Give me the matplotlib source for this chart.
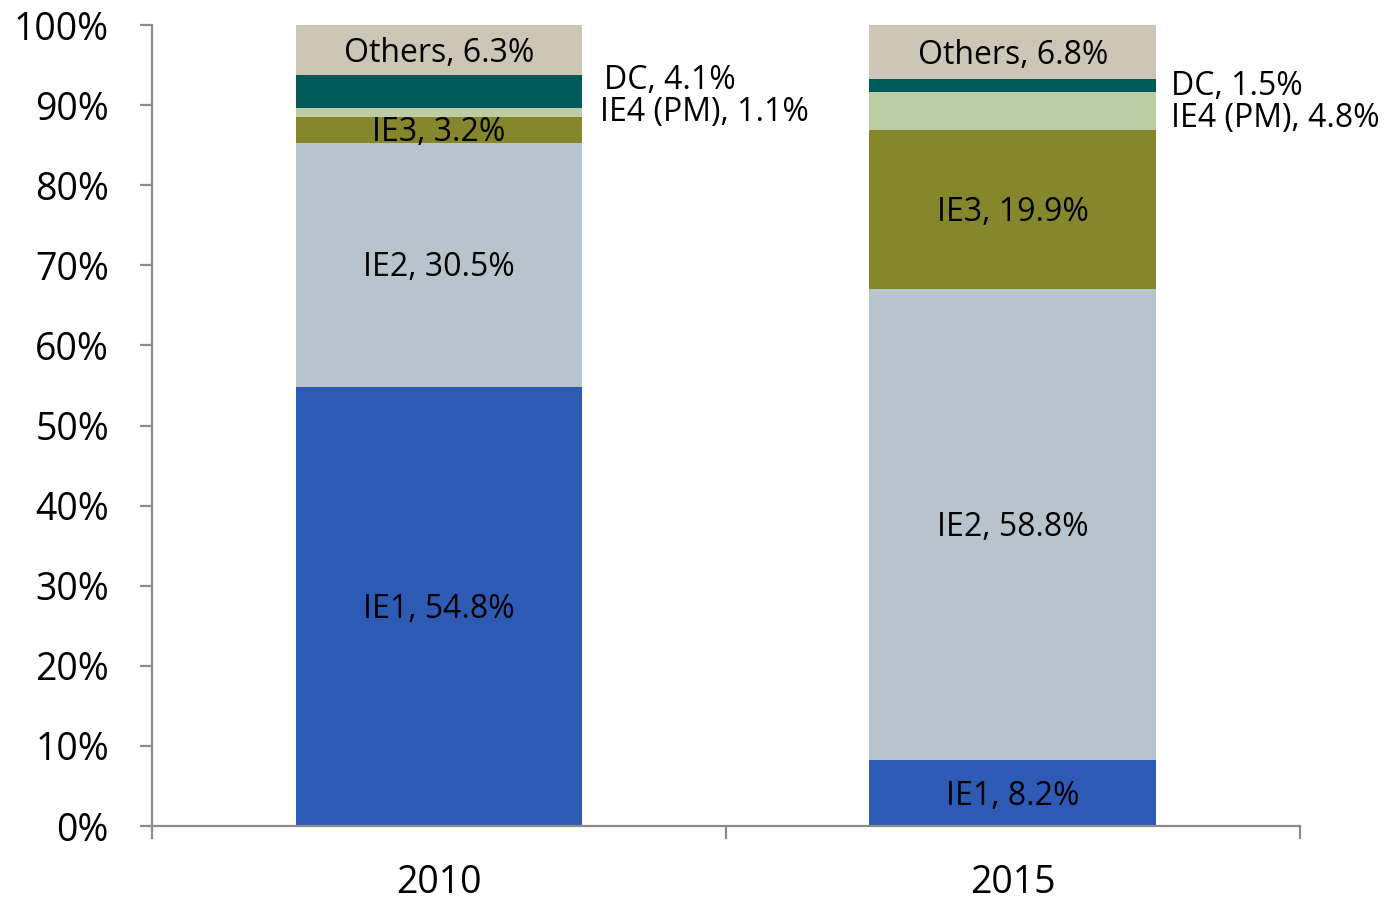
import matplotlib
matplotlib.use("Agg")
import matplotlib.pyplot as plt
from matplotlib.ticker import FixedLocator, PercentFormatter

years = ["2010", "2015"]
series = ["IE1", "IE2", "IE3", "IE4 (PM)", "DC", "Others"]
ie1 = [54.8, 8.2]
ie2 = [30.5, 58.8]
ie3 = [3.2, 19.9]
ie4 = [1.1, 4.8]
dc = [4.1, 1.5]
others = [6.3, 6.8]
values = [ie1, ie2, ie3, ie4, dc, others]
colors = ["#2D5AB4", "#B7C4CE", "#86872D", "#BCCCA3", "#005A58", "#CDC5B6"]

plt.rcParams["font.family"] = ["Open Sans", "DejaVu Sans"]

fig = plt.figure(figsize=(13.96, 9.0), dpi=100)
ax = fig.add_axes([0.1089, 0.0822, 0.8223, 0.89])

x = [0, 1]
width = 0.5
bottoms = [0.0, 0.0]
# outside label pixel offsets (dx, dy) per year for IE4 and DC
outside = {"IE4 (PM)": [(18, 0), (15, -8)], "DC": [(22, 11), (15, -1)]}

for name, vals, col in zip(series, values, colors):
    ax.bar(x, vals, width, bottom=bottoms, color=col, edgecolor="none")
    for i, v in enumerate(vals):
        mid = bottoms[i] + v / 2
        label = f"{name}, {v}%"
        if name in outside:
            dx, dy = outside[name][i]
            ax.annotate(label, (x[i] + width / 2, mid), xytext=(dx, dy),
                        textcoords="offset pixels", ha="left", va="center",
                        fontsize=23, color="black")
        else:
            ax.annotate(label, (x[i], mid), xytext=(0, -3),
                        textcoords="offset pixels", ha="center", va="center",
                        fontsize=23, color="black")
    bottoms = [b + v for b, v in zip(bottoms, vals)]

ax.set_xlim(-0.5, 1.5)
ax.set_ylim(0, 100)
ax.yaxis.set_major_locator(FixedLocator(range(0, 101, 10)))
ax.yaxis.set_major_formatter(PercentFormatter(decimals=0))

ax.xaxis.set_major_locator(FixedLocator([-0.5, 0.5, 1.5]))
ax.xaxis.set_major_formatter(plt.NullFormatter())
ax.xaxis.set_minor_locator(FixedLocator(x))
ax.set_xticklabels(years, minor=True)

axis_col = "#8C8C8C"
for s in ["top", "right"]:
    ax.spines[s].set_visible(False)
for s in ["left", "bottom"]:
    ax.spines[s].set_color(axis_col)
    ax.spines[s].set_linewidth(1.6)

ax.tick_params(axis="y", which="major", length=9, width=1.6, color=axis_col,
               labelsize=27, pad=22)
ax.tick_params(axis="x", which="major", length=9, width=1.6, color=axis_col,
               direction="out")
ax.tick_params(axis="x", which="minor", length=0, labelsize=27, pad=27)

fig.savefig("out.png", dpi=100)
